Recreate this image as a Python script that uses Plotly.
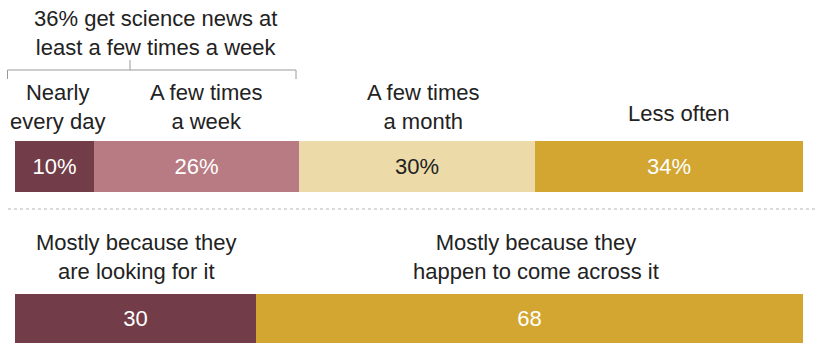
import plotly.graph_objects as go

W, H = 817, 343

# Frequency of getting science news
freq_labels = ["Nearly<br>every day", "A few times<br>a week", "A few times<br>a month", "Less often"]
freq_values = [10, 26, 30, 34]
freq_colors = ["#723D48", "#B87A83", "#ECDBA9", "#D2A631"]
freq_text_colors = ["white", "white", "#222222", "white"]

# Why they get it
why_labels = ["Mostly because they<br>are looking for it", "Mostly because they<br>happen to come across it"]
why_values = [30, 68]
why_colors = ["#723D48", "#D2A631"]
why_text_colors = ["white", "white"]

header = "36% get science news at<br>least a few times a week"

FONT = "Liberation Sans, Arial, sans-serif"
FS = 22


def px_x(p):
    return p / W


def px_y(p):
    return 1 - p / H


fig = go.Figure()

for lab, val, col, tc in zip(freq_labels, freq_values, freq_colors, freq_text_colors):
    fig.add_trace(go.Bar(
        y=[0], x=[val], orientation="h", marker=dict(color=col, line=dict(width=0)),
        text=[f"{val}%"], textposition="inside", insidetextanchor="middle",
        textfont=dict(color=tc, size=FS, family=FONT), constraintext="none",
        width=1, xaxis="x", yaxis="y", hoverinfo="skip", showlegend=False,
    ))

for lab, val, col, tc in zip(why_labels, why_values, why_colors, why_text_colors):
    fig.add_trace(go.Bar(
        y=[0], x=[val], orientation="h", marker=dict(color=col, line=dict(width=0)),
        text=[f"{val}"], textposition="inside", insidetextanchor="middle",
        textfont=dict(color=tc, size=FS, family=FONT), constraintext="none",
        width=1, xaxis="x2", yaxis="y2", hoverinfo="skip", showlegend=False,
    ))

x_dom = [px_x(15), px_x(803)]
ax_common = dict(showgrid=False, zeroline=False, showticklabels=False, showline=False, fixedrange=True)

fig.update_layout(
    width=W, height=H, margin=dict(l=0, r=0, t=0, b=0),
    paper_bgcolor="white", plot_bgcolor="white", barmode="stack", bargap=0,
    font=dict(family=FONT, size=FS, color="#222222"),
    xaxis=dict(domain=x_dom, range=[0, sum(freq_values)], anchor="y", **ax_common),
    yaxis=dict(domain=[px_y(192), px_y(141)], range=[-0.5, 0.5], anchor="x", **ax_common),
    xaxis2=dict(domain=x_dom, range=[0, sum(why_values)], anchor="y2", **ax_common),
    yaxis2=dict(domain=[0, px_y(294)], range=[-0.5, 0.5], anchor="x2", **ax_common),
)

annotations = []
# category labels above the top bar
freq_label_pos = [(57, 107), (206, 107), (423, 107), (679, 113)]
for lab, (x, y) in zip(freq_labels, freq_label_pos):
    annotations.append(dict(text=lab, x=px_x(x), y=px_y(y), xref="paper", yref="paper",
                            xanchor="center", yanchor="middle", showarrow=False,
                            font=dict(size=FS, family=FONT, color="#222222")))
# header over the bracket
annotations.append(dict(text=header, x=px_x(155), y=px_y(33), xref="paper", yref="paper",
                        xanchor="center", yanchor="middle", showarrow=False,
                        font=dict(size=FS, family=FONT, color="#222222")))
# labels above the bottom bar
why_label_pos = [(136, 257), (536, 257)]
for lab, (x, y) in zip(why_labels, why_label_pos):
    annotations.append(dict(text=lab, x=px_x(x), y=px_y(y), xref="paper", yref="paper",
                            xanchor="center", yanchor="middle", showarrow=False,
                            font=dict(size=FS, family=FONT, color="#222222")))
fig.update_layout(annotations=annotations)

# bracket grouping the first two categories
bracket = dict(type="path", xref="paper", yref="paper",
               path=(f"M {px_x(7.5)} {px_y(79)} L {px_x(7.5)} {px_y(70)} L {px_x(296)} {px_y(70)} "
                     f"L {px_x(296)} {px_y(79)} M {px_x(130)} {px_y(70)} L {px_x(130)} {px_y(60)}"),
               line=dict(color="#9a9a9a", width=1))
divider = dict(type="line", xref="paper", yref="paper", x0=px_x(8), x1=1, y0=px_y(209), y1=px_y(209),
               line=dict(color="#b5b5b5", width=1, dash="dot"))
fig.update_layout(shapes=[bracket, divider])

fig.write_html("out.html")
